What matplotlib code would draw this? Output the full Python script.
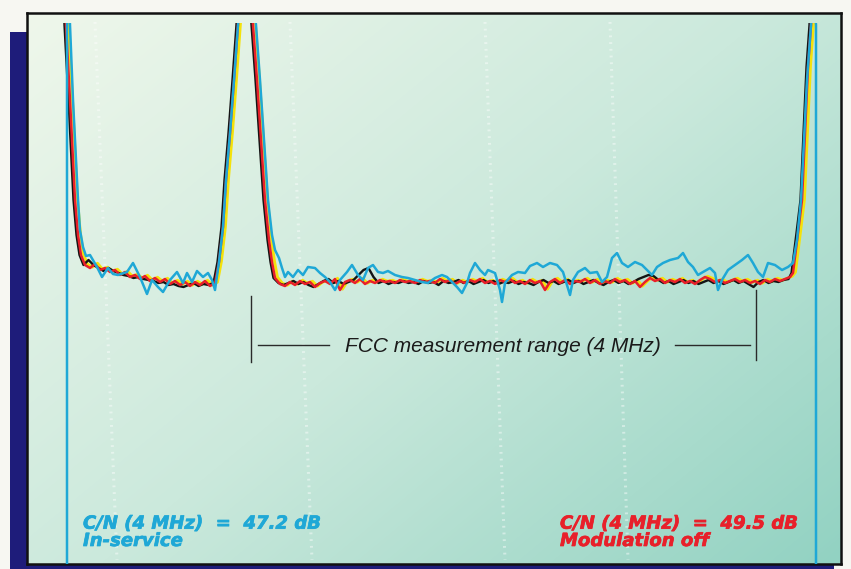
import numpy as np
import matplotlib
matplotlib.use("Agg")
import matplotlib.pyplot as plt
from matplotlib.patches import Rectangle
from matplotlib.colors import LinearSegmentedColormap
import matplotlib.transforms as mtransforms
import matplotlib.patheffects as pe

# ---------------- data (frequency in MHz from lower channel edge, level in dB re top graticule)
# carrier skirts common to all traces
lsc_freq = [-0.192, -0.176, -0.144, -0.120, -0.104, -0.080, -0.056, -0.024]
lsc_level = [10.0, 0.0, -15.0, -27.0, -35.0, -42.0, -46.0, -48.0]
pc_rise_freq = [1.048, 1.080, 1.104, 1.136, 1.168, 1.200, 1.256]
pc_rise_level = [-47.4, -40.4, -31.0, -21.6, -11.0, 0.0, 20.0]
pc_fall_freq = [1.320, 1.352, 1.384, 1.416, 1.448, 1.472, 1.496]
pc_fall_level = [0.0, -11.0, -23.0, -35.0, -43.0, -47.4, -50.6]
usc_rise_freq = [5.640, 5.680, 5.712, 5.736, 5.760, 5.784, 5.800]
usc_rise_level = [-49.6, -41.6, -35.0, -21.6, -8.4, 0.0, 10.0]

# analyzer bins of the noise floor
left_floor_freq = [round(0.016 + 0.04 * i, 3) for i in range(26)]
main_floor_freq = [round(1.536 + 0.04 * i, 3) for i in range(103)]

# modulation off (red)
red_left_floor = [-48.6, -47.8, -49.0, -48.6, -49.4, -49.0, -50.0, -49.4, -50.4, -50.0,
                  -50.8, -50.2, -51.2, -50.6, -51.4, -50.8, -51.8, -51.2, -52.0, -51.4,
                  -52.2, -51.4, -52.0, -51.2, -52.2, -51.6]
red_main_floor = [-51.8, -52.2, -51.4, -52.0, -51.2, -51.8, -51.4, -52.4, -51.6, -51.2,
                  -51.8, -50.8, -53.0, -51.4, -51.0, -51.6, -50.8, -51.8, -51.2, -51.6,
                  -51.0, -51.4, -51.2, -51.6, -51.0, -51.4, -51.2, -51.6, -51.0, -51.4,
                  -51.2, -51.6, -50.8, -51.4, -51.0, -51.8, -51.2, -51.6, -51.0, -51.4,
                  -50.8, -51.6, -51.2, -51.8, -51.0, -51.4, -50.8, -51.6, -51.2, -51.8,
                  -51.0, -51.6, -51.2, -53.0, -51.4, -50.8, -51.6, -51.0, -51.8, -51.2,
                  -51.4, -50.8, -51.6, -51.0, -51.8, -51.2, -51.6, -50.8, -51.4, -51.0,
                  -51.8, -51.2, -52.4, -51.4, -50.6, -51.2, -50.8, -51.6, -51.0, -51.4,
                  -50.8, -51.6, -51.2, -51.8, -51.0, -50.4, -50.8, -51.4, -51.0, -51.6,
                  -51.2, -50.8, -51.4, -51.0, -51.6, -51.2, -51.8, -51.0, -51.4, -50.8,
                  -51.2, -50.8, -50.4]

# reference (black)
black_left_floor = [-47.0, -48.0, -48.6, -49.2, -48.6, -49.2, -49.6, -50.0, -50.2, -50.6,
                    -50.4, -50.8, -51.0, -51.2, -51.6, -51.4, -52.0, -51.8, -52.2, -52.4,
                    -52.0, -51.6, -52.2, -51.8, -52.0, -51.6]
black_main_floor = [-51.6, -52.0, -51.6, -51.2, -51.8, -51.4, -52.0, -52.4, -51.8, -51.2,
                    -50.8, -51.6, -51.2, -51.8, -51.4, -51.0, -50.0, -49.0, -48.6, -50.4,
                    -51.6, -51.2, -51.8, -51.4, -51.6, -51.2, -51.6, -51.4, -51.8, -51.2,
                    -51.6, -51.4, -52.0, -51.2, -51.6, -51.4, -51.0, -51.6, -51.2, -51.8,
                    -51.4, -51.0, -51.6, -51.2, -51.8, -51.4, -51.6, -51.2, -51.8, -51.4,
                    -51.6, -52.0, -51.4, -51.0, -51.6, -51.2, -51.8, -51.4, -51.0, -51.6,
                    -51.2, -51.8, -51.4, -51.0, -51.6, -52.0, -51.4, -51.0, -51.6, -51.2,
                    -51.8, -51.4, -50.8, -50.4, -50.0, -50.2, -51.0, -51.6, -51.2, -51.8,
                    -51.4, -51.0, -51.6, -51.2, -51.8, -51.4, -51.0, -51.6, -51.2, -51.8,
                    -51.4, -51.0, -51.6, -51.2, -51.8, -52.4, -51.4, -51.0, -51.6, -51.2,
                    -51.4, -51.0, -50.8]

# in-service (cyan)
cyan_freq = [-0.168, -0.168, -0.160, -0.144, -0.120, -0.096, -0.080, -0.064, -0.040, -0.016,
             0.016, 0.072, 0.112, 0.160, 0.200, 0.240, 0.312, 0.360, 0.416, 0.472,
             0.512, 0.560, 0.600, 0.656, 0.712, 0.760, 0.792, 0.832, 0.872, 0.920,
             0.960, 0.992, 1.016, 1.048, 1.080, 1.104, 1.136, 1.168, 1.200, 1.272,
             1.344, 1.376, 1.408, 1.440, 1.472, 1.496, 1.528, 1.552, 1.576, 1.600,
             1.640, 1.680, 1.720, 1.760, 1.816, 1.856, 1.896, 1.936, 1.976, 2.016,
             2.072, 2.112, 2.160, 2.200, 2.240, 2.280, 2.320, 2.360, 2.400, 2.456,
             2.512, 2.560, 2.616, 2.672, 2.720, 2.776, 2.832, 2.872, 2.912, 2.952,
             2.992, 3.032, 3.056, 3.096, 3.136, 3.176, 3.200, 3.256, 3.296, 3.312,
             3.336, 3.392, 3.440, 3.496, 3.536, 3.592, 3.640, 3.696, 3.752, 3.800,
             3.856, 3.880, 3.920, 3.976, 4.016, 4.072, 4.112, 4.152, 4.192, 4.232,
             4.272, 4.320, 4.376, 4.432, 4.472, 4.512, 4.552, 4.600, 4.656, 4.720,
             4.760, 4.800, 4.840, 4.880, 4.920, 4.976, 5.016, 5.040, 5.072, 5.120,
             5.176, 5.232, 5.280, 5.320, 5.360, 5.400, 5.440, 5.496, 5.552, 5.600,
             5.640, 5.672, 5.704, 5.728, 5.752, 5.784, 5.800, 5.824, 5.824]
cyan_level = [-108.0, 0.0, 10.0, 0.0, -15.0, -27.0, -35.0, -41.0, -44.4, -46.2,
              -46.0, -48.4, -50.4, -48.6, -49.8, -50.0, -49.4, -47.6, -50.4, -53.8,
              -51.0, -52.4, -53.4, -51.0, -49.4, -51.6, -49.6, -51.4, -49.2, -50.4,
              -49.6, -51.0, -53.0, -47.4, -40.4, -31.0, -21.6, -11.0, 0.0, 20.0,
              0.0, -11.0, -23.0, -35.0, -42.0, -45.0, -46.6, -48.6, -50.4, -49.4,
              -50.4, -49.0, -50.0, -48.4, -48.6, -49.6, -50.4, -51.4, -53.0, -51.0,
              -49.4, -48.0, -50.0, -51.0, -48.6, -48.0, -49.4, -49.6, -49.2, -50.0,
              -50.4, -50.6, -51.0, -51.4, -51.6, -50.6, -50.0, -50.4, -51.4, -52.4,
              -53.6, -51.6, -49.6, -47.6, -49.0, -50.0, -49.0, -49.6, -53.0, -55.4,
              -51.6, -50.0, -49.4, -49.6, -48.2, -47.6, -48.4, -47.6, -48.0, -49.4,
              -54.0, -51.0, -49.4, -48.6, -49.6, -49.4, -51.4, -50.4, -46.6, -45.6,
              -47.6, -48.4, -47.4, -48.0, -49.0, -50.0, -48.4, -47.6, -47.0, -46.6,
              -45.6, -47.4, -48.4, -50.0, -49.4, -48.6, -49.6, -53.0, -51.0, -49.0,
              -48.0, -47.0, -46.0, -47.6, -49.4, -50.4, -47.6, -48.0, -49.0, -48.4,
              -47.6, -43.0, -35.0, -23.0, -11.0, 0.0, 10.0, 0.0, -108.0]

graticule_px = [(95, 117), (290, 312), (485, 505), (610, 628)]
fcc_start, fcc_stop = 1.304, 5.344
label_in_service = ["C/N (4 MHz)  =  47.2 dB", "In-service"]
label_mod_off = ["C/N (4 MHz)  =  49.5 dB", "Modulation off"]

assert len(red_main_floor) == len(main_floor_freq) == len(black_main_floor)
assert len(red_left_floor) == len(left_floor_freq) == len(black_left_floor)
assert len(cyan_freq) == len(cyan_level)

red_freq = lsc_freq + left_floor_freq + pc_rise_freq + pc_fall_freq + main_floor_freq + usc_rise_freq
red_level = lsc_level + red_left_floor + pc_rise_level + pc_fall_level + red_main_floor + usc_rise_level
black_freq = red_freq
black_level = lsc_level + black_left_floor + pc_rise_level + pc_fall_level + black_main_floor + usc_rise_level

# ---------------- figure
W, H = 851, 569
fig = plt.figure(figsize=(W / 100, H / 100), dpi=100)
fig.patch.set_facecolor('#f7f7f2')

def fx(px):
    return px / W

def fy(py):
    return 1 - py / H

CYAN = '#1fa8d6'
RED = '#e8202a'
YELLOW = '#f4e20a'
NAVY = '#1e1c7a'

# drop shadow
fig.add_artist(Rectangle((fx(10), 0), fx(834) - fx(10), fy(32), transform=fig.transFigure,
                         facecolor=NAVY, edgecolor='none', zorder=0))

# panel with gradient
ax_bg = fig.add_axes([fx(27), fy(564), fx(841) - fx(27), fy(13) - fy(564)])
ny, nx = 120, 200
u = np.linspace(0, 1, nx)[None, :]
v = np.linspace(0, 1, ny)[:, None]
t = 0.55 * u + 0.45 * v
cmap = LinearSegmentedColormap.from_list('panel', ['#eff7eb', '#cbe9dc', '#92d2c2'])
ax_bg.imshow(t, cmap=cmap, vmin=0, vmax=1, aspect='auto', extent=(27, 841, 564, 13),
             interpolation='bilinear')
ax_bg.set_xlim(27, 841)
ax_bg.set_ylim(564, 13)
ax_bg.set_xticks([])
ax_bg.set_yticks([])
for s in ax_bg.spines.values():
    s.set_linewidth(1.8)
    s.set_color('#111111')
for x0, x1 in graticule_px:
    ax_bg.plot([x0, x1], [22, 560], color='white', alpha=0.45, lw=2.2,
               linestyle=(0, (0.6, 1.6)))

# traces
ax = fig.add_axes([fx(27), fy(564), fx(841) - fx(27), fy(23) - fy(564)])
ax.patch.set_alpha(0)
ax.set_xlim((27 - 88) * 0.008, (841 - 88) * 0.008)
ax.set_ylim(-107.8, 0.4)
ax.set_axis_off()

off_yel = mtransforms.offset_copy(ax.transData, fig=fig, x=2.5, y=0.8, units='dots')
off_blk = mtransforms.offset_copy(ax.transData, fig=fig, x=-1.5, y=0, units='dots')
ax.plot(red_freq, red_level, color=YELLOW, lw=2.0, transform=off_yel, zorder=2,
        solid_joinstyle='round')
ax.plot(black_freq, black_level, color='#141414', lw=1.7, transform=off_blk, zorder=3,
        solid_joinstyle='round')
ax.plot(red_freq, red_level, color=RED, lw=1.8, zorder=4, solid_joinstyle='round')
ax.plot(cyan_freq, cyan_level, color=CYAN, lw=1.8, zorder=5, solid_joinstyle='round')

# FCC measurement range annotation
ax.plot([fcc_start, fcc_start], [-54.2, -67.4], color='#2a2a2a', lw=1.0)
ax.plot([fcc_stop, fcc_stop], [-53.0, -67.0], color='#2a2a2a', lw=1.0)
ax.plot([1.36, 1.928], [-64.0, -64.0], color='#2a2a2a', lw=1.0)
ax.plot([4.696, 5.296], [-64.0, -64.0], color='#2a2a2a', lw=1.0)
fig.text(fx(503), fy(346), 'FCC measurement range (4 MHz)', ha='center', va='center',
         fontsize=15, style='italic', color='#1a1a1a',
         family=['Liberation Sans', 'DejaVu Sans'])

# C/N labels (two lines in one text block)
for (x0, labels, col) in [(83, label_in_service, CYAN), (560, label_mod_off, RED)]:
    txt = fig.text(fx(x0), fy(546), "\n".join(labels), ha='left', va='baseline',
                   fontsize=13, fontweight='bold', style='italic', color=col,
                   family=['DejaVu Sans'], linespacing=0.95, multialignment='left')
    txt.set_path_effects([pe.withStroke(linewidth=0.5, foreground=col)])

fig.savefig('out.png', dpi=100, facecolor=fig.get_facecolor())
